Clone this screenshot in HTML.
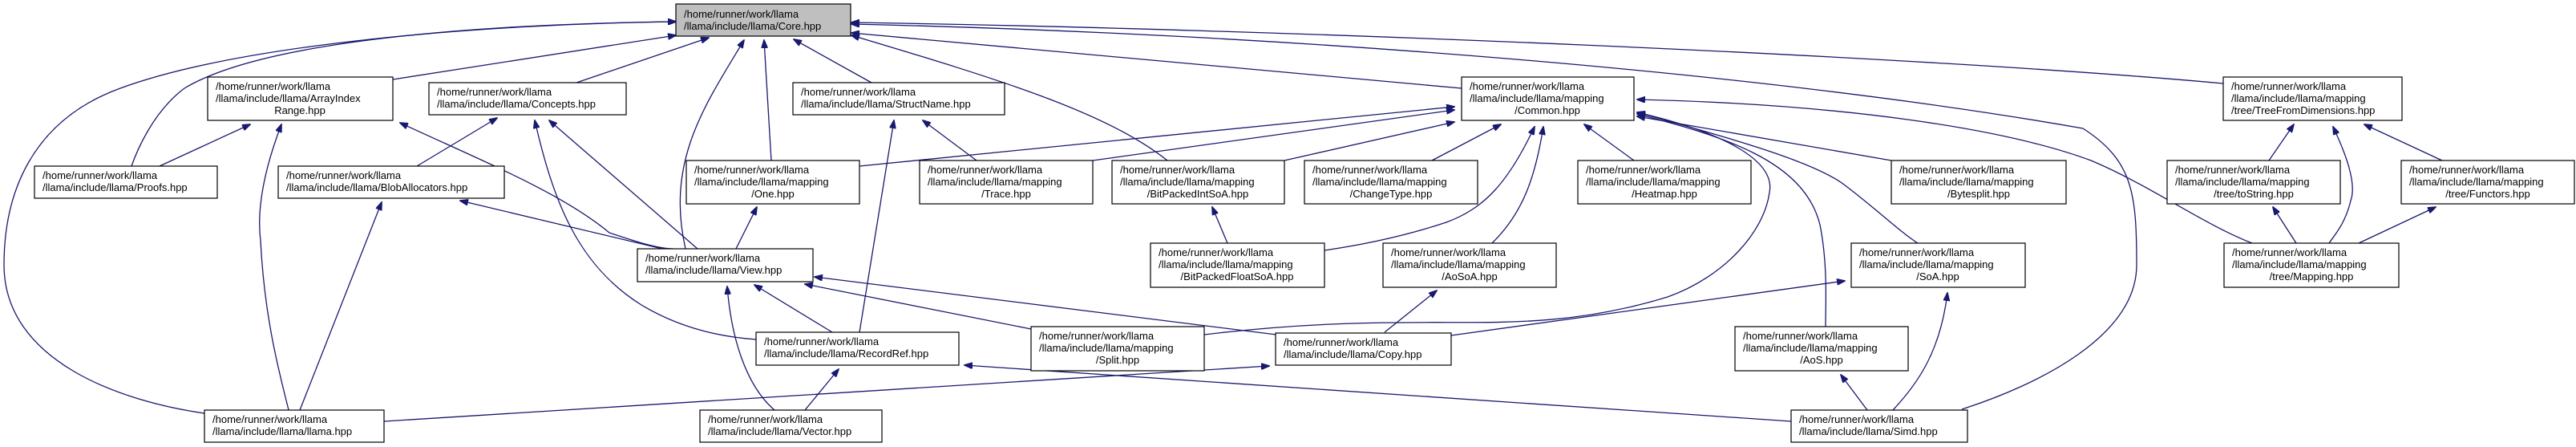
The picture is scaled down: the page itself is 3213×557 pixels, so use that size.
<!DOCTYPE html>
<html><head><meta charset="utf-8"><style>
html,body{margin:0;padding:0;background:#fff;}
svg{display:block;}
text{font-family:"Liberation Sans",sans-serif;font-size:13px;fill:#000;}
.e{fill:none;stroke:#191970;stroke-width:1.3;marker-start:url(#ah);}
.n{fill:#fff;stroke:#000;stroke-width:1.2;}
</style></head><body>
<svg width="3213" height="557" viewBox="0 0 3213 557" xmlns="http://www.w3.org/2000/svg">
<defs>
<marker id="ah" markerWidth="11" markerHeight="8" refX="10" refY="4" orient="auto-start-reverse" markerUnits="userSpaceOnUse">
<path d="M0,0 L11,4 L0,8 z" fill="#191970" stroke="#191970"/>
</marker>
</defs>
<g>
<path class="e" d="M843,27 C600,30 300,55 150,110 C40,150 5,240 5,330 C5,450 150,500 255,515"/>
<path class="e" d="M843,27 C600,30 330,50 230,110 C190,140 170,190 164,207"/>
<path class="e" d="M843,44 L490,99"/>
<path class="e" d="M884,47 L719,103"/>
<path class="e" d="M928,50 C880,130 830,200 855,310"/>
<path class="e" d="M953,50 L962,200"/>
<path class="e" d="M990,49 L1087,103"/>
<path class="e" d="M1062,44 C1250,100 1380,140 1456,200"/>
<path class="e" d="M1062,41 L1823,110"/>
<path class="e" d="M1062,28 C1600,36 2400,70 2773,104"/>
<path class="e" d="M1062,30 C1600,42 2200,90 2598,160 C2660,200 2665,240 2665,330 C2665,420 2540,480 2447,510"/>
<path class="e" d="M312,155 L199,207"/>
<path class="e" d="M351,155 C330,210 320,260 325,300 C330,400 350,470 360,511"/>
<path class="e" d="M499,153 C600,200 700,240 760,290 C790,300 820,310 840,310"/>
<path class="e" d="M476,252 L374,511"/>
<path class="e" d="M574,250 L826,310"/>
<path class="e" d="M620,147 L520,207"/>
<path class="e" d="M667,150 C690,250 720,330 800,380 C850,410 900,420 943,423"/>
<path class="e" d="M685,150 L870,310"/>
<path class="e" d="M1115,150 L1072,414"/>
<path class="e" d="M1151,150 L1218,200"/>
<path class="e" d="M944,258 L918,310"/>
<path class="e" d="M941,355 L1038,414"/>
<path class="e" d="M907,357 C912,420 930,480 966,511"/>
<path class="e" d="M1004,354 L1286,410"/>
<path class="e" d="M1016,345 L1592,417"/>
<path class="e" d="M1046,460 L1004,511"/>
<path class="e" d="M1203,455 L2234,525"/>
<path class="e" d="M1583,456 L479,525"/>
<path class="e" d="M1792,362 L1727,414"/>
<path class="e" d="M2301,350 L1810,418"/>
<path class="e" d="M2429,365 C2420,440 2390,480 2361,511"/>
<path class="e" d="M2296,467 L2329,511"/>
<path class="e" d="M1512,258 L1531,303"/>
<path class="e" d="M1814,133 L1072,207"/>
<path class="e" d="M1814,137 L1363,200"/>
<path class="e" d="M1814,152 L1602,200"/>
<path class="e" d="M1872,155 L1786,200"/>
<path class="e" d="M1914,158 C1880,230 1850,260 1804,277 C1750,295 1700,305 1652,312"/>
<path class="e" d="M1925,158 C1915,220 1900,265 1861,303"/>
<path class="e" d="M1976,155 L2038,200"/>
<path class="e" d="M2042,140 C2150,165 2215,200 2207,240 C2200,290 2150,345 2080,370 C1950,410 1850,400 1750,402 C1650,402 1560,410 1502,417"/>
<path class="e" d="M2042,142 C2150,170 2250,200 2270,280 C2280,330 2277,380 2277,407"/>
<path class="e" d="M2042,140 C2150,170 2260,200 2300,230 C2340,260 2371,290 2392,303"/>
<path class="e" d="M2042,145 L2359,200"/>
<path class="e" d="M2042,124 C2300,130 2500,160 2608,200 C2680,230 2749,280 2809,303"/>
<path class="e" d="M2861,155 L2830,200"/>
<path class="e" d="M2949,155 L3046,200"/>
<path class="e" d="M2910,158 C2925,190 2940,228 2932,250 C2925,280 2910,295 2905,303"/>
<path class="e" d="M2835,258 L2864,303"/>
<path class="e" d="M3038,258 L2942,303"/>
</g>
<g>
<!-- Core -->
<rect x="843" y="5" width="218" height="40" fill="#bfbfbf" stroke="#000" stroke-width="1.2"/>
<text x="853" y="22">/home/runner/work/llama</text><text x="853" y="37">/llama/include/llama/Core.hpp</text>

<rect class="n" x="259" y="96" width="231" height="54"/>
<text x="269" y="112">/home/runner/work/llama</text><text x="269" y="127">/llama/include/llama/ArrayIndex</text><text x="374" y="142" text-anchor="middle">Range.hpp</text>

<rect class="n" x="535" y="103" width="246" height="40"/>
<text x="545" y="119">/home/runner/work/llama</text><text x="545" y="134">/llama/include/llama/Concepts.hpp</text>

<rect class="n" x="43" y="207" width="228" height="40"/>
<text x="53" y="223">/home/runner/work/llama</text><text x="53" y="238">/llama/include/llama/Proofs.hpp</text>

<rect class="n" x="347" y="207" width="282" height="40"/>
<text x="357" y="223">/home/runner/work/llama</text><text x="357" y="238">/llama/include/llama/BlobAllocators.hpp</text>

<rect class="n" x="255" y="511" width="224" height="40"/>
<text x="265" y="527">/home/runner/work/llama</text><text x="265" y="542">/llama/include/llama/llama.hpp</text>

<rect class="n" x="989" y="103" width="264" height="40"/>
<text x="999" y="119">/home/runner/work/llama</text><text x="999" y="134">/llama/include/llama/StructName.hpp</text>

<rect class="n" x="856" y="200" width="216" height="54"/>
<text x="866" y="216">/home/runner/work/llama</text><text x="866" y="231">/llama/include/llama/mapping</text><text x="964" y="246" text-anchor="middle">/One.hpp</text>

<rect class="n" x="1147" y="200" width="216" height="54"/>
<text x="1157" y="216">/home/runner/work/llama</text><text x="1157" y="231">/llama/include/llama/mapping</text><text x="1255" y="246" text-anchor="middle">/Trace.hpp</text>

<rect class="n" x="1387" y="200" width="215" height="54"/>
<text x="1397" y="216">/home/runner/work/llama</text><text x="1397" y="231">/llama/include/llama/mapping</text><text x="1494" y="246" text-anchor="middle">/BitPackedIntSoA.hpp</text>

<rect class="n" x="795" y="310" width="219" height="41"/>
<text x="805" y="326">/home/runner/work/llama</text><text x="805" y="341">/llama/include/llama/View.hpp</text>

<rect class="n" x="943" y="414" width="253" height="41"/>
<text x="953" y="430">/home/runner/work/llama</text><text x="953" y="445">/llama/include/llama/RecordRef.hpp</text>

<rect class="n" x="1286" y="407" width="216" height="55"/>
<text x="1296" y="423">/home/runner/work/llama</text><text x="1296" y="438">/llama/include/llama/mapping</text><text x="1394" y="453" text-anchor="middle">/Split.hpp</text>

<rect class="n" x="873" y="511" width="227" height="40"/>
<text x="883" y="527">/home/runner/work/llama</text><text x="883" y="542">/llama/include/llama/Vector.hpp</text>

<rect class="n" x="1435" y="303" width="217" height="55"/>
<text x="1445" y="319">/home/runner/work/llama</text><text x="1445" y="334">/llama/include/llama/mapping</text><text x="1543" y="349" text-anchor="middle">/BitPackedFloatSoA.hpp</text>

<rect class="n" x="1591" y="415" width="219" height="40"/>
<text x="1601" y="431">/home/runner/work/llama</text><text x="1601" y="446">/llama/include/llama/Copy.hpp</text>

<rect class="n" x="1823" y="96" width="215" height="54"/>
<text x="1833" y="112">/home/runner/work/llama</text><text x="1833" y="127">/llama/include/llama/mapping</text><text x="1930" y="142" text-anchor="middle">/Common.hpp</text>

<rect class="n" x="1627" y="200" width="216" height="54"/>
<text x="1637" y="216">/home/runner/work/llama</text><text x="1637" y="231">/llama/include/llama/mapping</text><text x="1735" y="246" text-anchor="middle">/ChangeType.hpp</text>

<rect class="n" x="1968" y="200" width="216" height="54"/>
<text x="1978" y="216">/home/runner/work/llama</text><text x="1978" y="231">/llama/include/llama/mapping</text><text x="2076" y="246" text-anchor="middle">/Heatmap.hpp</text>

<rect class="n" x="2359" y="200" width="218" height="54"/>
<text x="2369" y="216">/home/runner/work/llama</text><text x="2369" y="231">/llama/include/llama/mapping</text><text x="2468" y="246" text-anchor="middle">/Bytesplit.hpp</text>

<rect class="n" x="1725" y="303" width="216" height="55"/>
<text x="1735" y="319">/home/runner/work/llama</text><text x="1735" y="334">/llama/include/llama/mapping</text><text x="1833" y="349" text-anchor="middle">/AoSoA.hpp</text>

<rect class="n" x="2309" y="303" width="217" height="55"/>
<text x="2319" y="319">/home/runner/work/llama</text><text x="2319" y="334">/llama/include/llama/mapping</text><text x="2417" y="349" text-anchor="middle">/SoA.hpp</text>

<rect class="n" x="2164" y="407" width="216" height="55"/>
<text x="2174" y="423">/home/runner/work/llama</text><text x="2174" y="438">/llama/include/llama/mapping</text><text x="2272" y="453" text-anchor="middle">/AoS.hpp</text>

<rect class="n" x="2234" y="511" width="220" height="40"/>
<text x="2244" y="527">/home/runner/work/llama</text><text x="2244" y="542">/llama/include/llama/Simd.hpp</text>

<rect class="n" x="2773" y="96" width="223" height="54"/>
<text x="2783" y="112">/home/runner/work/llama</text><text x="2783" y="127">/llama/include/llama/mapping</text><text x="2783" y="142">/tree/TreeFromDimensions.hpp</text>

<rect class="n" x="2703" y="200" width="216" height="54"/>
<text x="2713" y="216">/home/runner/work/llama</text><text x="2713" y="231">/llama/include/llama/mapping</text><text x="2811" y="246" text-anchor="middle">/tree/toString.hpp</text>

<rect class="n" x="2995" y="200" width="216" height="54"/>
<text x="3005" y="216">/home/runner/work/llama</text><text x="3005" y="231">/llama/include/llama/mapping</text><text x="3103" y="246" text-anchor="middle">/tree/Functors.hpp</text>

<rect class="n" x="2774" y="303" width="218" height="55"/>
<text x="2784" y="319">/home/runner/work/llama</text><text x="2784" y="334">/llama/include/llama/mapping</text><text x="2883" y="349" text-anchor="middle">/tree/Mapping.hpp</text>
</g>
</svg>
</body></html>
